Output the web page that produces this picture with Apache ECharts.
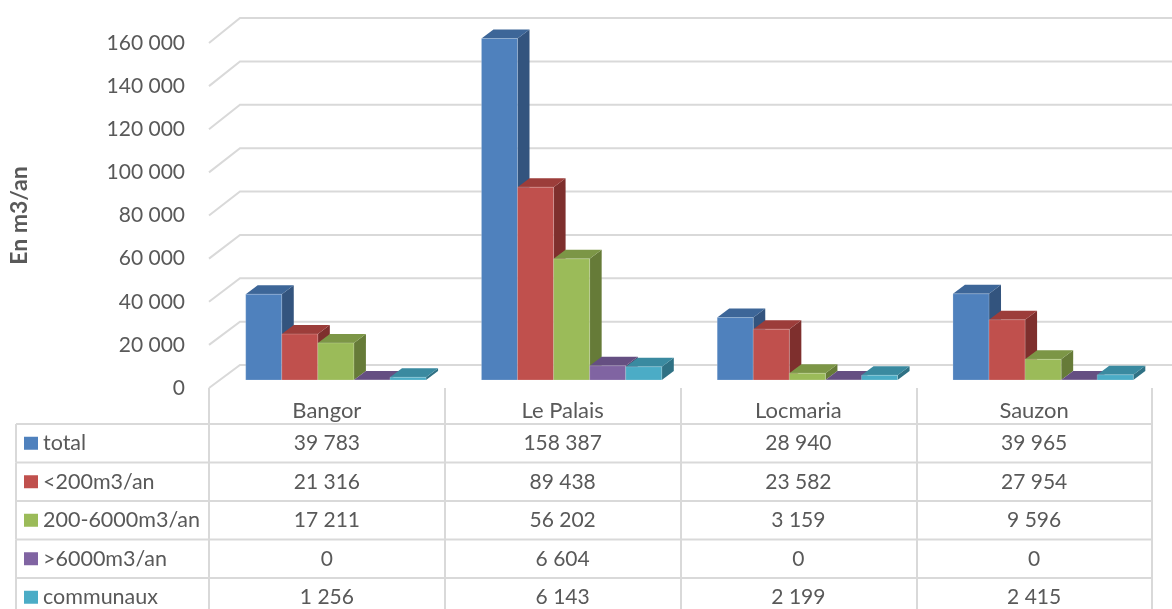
<!DOCTYPE html>
<html>
<head>
<meta charset="utf-8">
<script src="https://cdn.jsdelivr.net/npm/echarts@6/dist/echarts.min.js"></script>
<style>
  html, body { margin: 0; padding: 0; background: #ffffff; }
  #chart { width: 1172px; height: 609px; }
</style>
</head>
<body>
<div id="chart"></div>
<script>
// ---- data ----
const categories = ['Bangor', 'Le Palais', 'Locmaria', 'Sauzon'];
const seriesNames = ['total', '<200m3/an', '200-6000m3/an', '>6000m3/an', 'communaux'];
const totalValues = [39783, 158387, 28940, 39965];
const under200Values = [21316, 89438, 23582, 27954];
const mid200to6000Values = [17211, 56202, 3159, 9596];
const over6000Values = [0, 6604, 0, 0];
const communauxValues = [1256, 6143, 2199, 2415];
const yTicks = [0, 20000, 40000, 60000, 80000, 100000, 120000, 140000, 160000];

const rows = [totalValues, under200Values, mid200to6000Values, over6000Values, communauxValues];

// ---- styles ----
const frontColors = ['#4F81BD', '#C0504D', '#9BBB59', '#8064A2', '#4BACC6'];
const topColors   = ['#3D6698', '#9C3D3A', '#7C9646', '#654F82', '#3A8AA0'];
const sideColors  = ['#33547E', '#7E2F2D', '#667B38', '#53416B', '#2F7184'];
const FONT = 'Lato, "Open Sans", sans-serif';
const TEXT = '#595959';
const LINE = '#d9d9d9';

const fmt = v => String(v).replace(/\B(?=(\d{3})+(?!\d))/g, ' ');

const DEPTH_X = 31, DEPTH_Y = -23;       // back wall offset
const BAR_SHIFT_X = 9, BAR_SHIFT_Y = -8;  // bar front plane offset
const BAR_DX = 12, BAR_DY = -9;           // bar depth
const TABLE_LEFT = 16, HEADER_H = 36, ROW_H = 38.5;

function gridRender(params, api) {
  const v = api.value(1);
  const cs = params.coordSys;
  const p = api.coord([0, v]);
  const dy = DEPTH_Y - 2 * (v / 160000);
  return {
    type: 'polyline',
    shape: { points: [[cs.x, p[1]], [cs.x + DEPTH_X, p[1] + dy], [cs.x + cs.width + DEPTH_X + 20, p[1] + dy]] },
    style: { stroke: LINE, lineWidth: 2, fill: null }
  };
}

function barRender(si) {
  return function (params, api) {
    const cat = api.value(0), val = api.value(1);
    const base = api.coord([cat, 0]);
    const top = api.coord([cat, val]);
    const band = api.size([1, 0])[0];
    const bw = band * 0.153;
    const x0 = base[0] - 2.5 * bw + si * bw + BAR_SHIFT_X;
    const yb = base[1] + BAR_SHIFT_Y, yt = top[1] + BAR_SHIFT_Y;
    const x1 = x0 + bw;
    return {
      type: 'group',
      children: [
        { type: 'polygon', shape: { points: [[x1, yt], [x1 + BAR_DX, yt + BAR_DY], [x1 + BAR_DX, yb + BAR_DY], [x1, yb]] },
          style: { fill: sideColors[si] } },
        { type: 'polygon', shape: { points: [[x0, yt], [x0 + BAR_DX, yt + BAR_DY], [x1 + BAR_DX, yt + BAR_DY], [x1, yt]] },
          style: { fill: topColors[si] } },
        { type: 'rect', shape: { x: x0, y: yt, width: bw, height: Math.max(yb - yt, 0) },
          style: { fill: frontColors[si], stroke: 'rgba(255,255,255,0.2)', lineWidth: 1 } }
      ]
    };
  };
}

function tableRender(params, api) {
  const i = params.dataIndex;
  const cs = params.coordSys;
  const bottom = cs.y + cs.height;
  const rowTop = bottom + HEADER_H + i * ROW_H;
  const cy = rowTop + ROW_H / 2;
  const right = cs.x + cs.width;
  const children = [
    { type: 'line', shape: { x1: TABLE_LEFT, y1: rowTop, x2: right, y2: rowTop }, style: { stroke: LINE, lineWidth: 2 } },
    { type: 'line', shape: { x1: TABLE_LEFT, y1: rowTop, x2: TABLE_LEFT, y2: rowTop + ROW_H }, style: { stroke: LINE, lineWidth: 2 } },
    { type: 'rect', shape: { x: TABLE_LEFT + 8, y: cy - 6.5, width: 14, height: 13 }, style: { fill: frontColors[i] } },
    { type: 'text', style: { text: seriesNames[i], x: TABLE_LEFT + 27, y: cy, align: 'left', verticalAlign: 'middle',
        fill: TEXT, fontSize: 21.5, fontFamily: FONT } }
  ];
  if (i === seriesNames.length - 1) {
    children.push({ type: 'line', shape: { x1: TABLE_LEFT, y1: rowTop + ROW_H, x2: right, y2: rowTop + ROW_H }, style: { stroke: LINE, lineWidth: 2 } });
  }
  rows[i].forEach((v, j) => {
    const x = api.coord([j, 0])[0];
    children.push({ type: 'text', style: { text: fmt(v), x: x, y: cy, align: 'center', verticalAlign: 'middle',
      fill: TEXT, fontSize: 21, fontFamily: FONT } });
  });
  return { type: 'group', children };
}

const series = [
  { type: 'custom', name: 'grid', z: 1, silent: true, clip: false, renderItem: gridRender,
    data: yTicks.map(v => [0, v]) }
];
rows.forEach((vals, si) => {
  series.push({ type: 'custom', name: seriesNames[si], z: 2, clip: false, renderItem: barRender(si),
    data: vals.map((v, j) => [j, v]) });
});
series.push({ type: 'custom', name: 'table', z: 3, silent: true, clip: false, renderItem: tableRender,
  data: seriesNames.map(() => [0, 0]) });

const chart = echarts.init(document.getElementById('chart'), null, { renderer: 'canvas' });
chart.setOption({
  backgroundColor: '#ffffff',
  animation: false,
  grid: { left: 208, right: 20, top: 43, bottom: 221, containLabel: false },
  xAxis: {
    type: 'category',
    data: categories,
    boundaryGap: true,
    axisLine: { show: false },
    axisTick: { show: true, length: 230, lineStyle: { color: LINE, width: 2 } },
    axisLabel: { color: TEXT, fontSize: 22, fontFamily: FONT, margin: 12 },
    splitLine: { show: false }
  },
  yAxis: {
    type: 'value',
    min: 0, max: 160000, interval: 20000,
    axisLine: { show: false },
    axisTick: { show: false },
    splitLine: { show: false },
    axisLabel: { color: TEXT, fontSize: 21, fontFamily: FONT, margin: 24, formatter: fmt },
    name: 'En m3/an',
    nameLocation: 'middle',
    nameRotate: 90,
    nameGap: 178,
    nameTextStyle: { color: TEXT, fontSize: 23, fontWeight: 'bold', fontFamily: FONT }
  },
  series
});
</script>
</body>
</html>
